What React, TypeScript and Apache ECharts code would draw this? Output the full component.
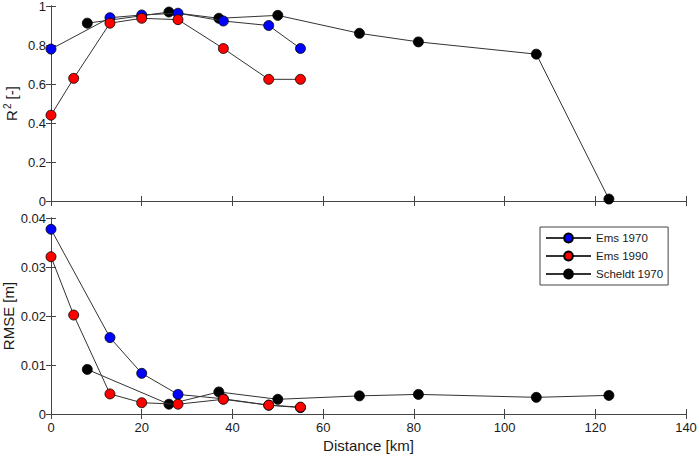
import React, { useEffect, useRef } from "react";
import * as echarts from "echarts";

const ems1970Dist = [0, 13, 20, 28, 38, 48, 55];
const ems1990Dist = [0, 5, 13, 20, 28, 38, 48, 55];
const scheldtDist = [8, 26, 37, 50, 68, 81, 107, 123];

const ems1970R2 = [0.779, 0.94, 0.954, 0.963, 0.923, 0.9, 0.782];
const ems1990R2 = [0.44, 0.629, 0.912, 0.937, 0.93, 0.782, 0.624, 0.624];
const scheldtR2 = [0.912, 0.969, 0.937, 0.952, 0.86, 0.816, 0.753, 0.01];

const ems1970Rmse = [0.0377, 0.0156, 0.0083, 0.004, 0.0031, 0.0018, 0.0013];
const ems1990Rmse = [0.0321, 0.0202, 0.0041, 0.0023, 0.002, 0.003, 0.0018, 0.0014];
const scheldtRmse = [0.0091, 0.002, 0.0045, 0.003, 0.0037, 0.004, 0.0034, 0.0038];

const seriesNames = ["Ems 1970", "Ems 1990", "Scheldt 1970"];
const seriesColors = ["#0000ff", "#ff0000", "#000000"];

const FONT = "'Liberation Sans', Arial, sans-serif";
const AXIS_COLOR = "#444444";
const TEXT_COLOR = "#1a1a1a";

const zip = (xs: number[], ys: number[]) => xs.map((x, i) => [x, ys[i]]);

export default function App() {
  const ref = useRef<HTMLDivElement>(null);
  useEffect(() => {
    if (!ref.current) return;
    const chart = echarts.init(ref.current, null, { renderer: "svg" });

    const axisLine = { show: true, lineStyle: { color: AXIS_COLOR, width: 1 } };
    const axisTick = { show: true, inside: true, length: 5, lineStyle: { color: AXIS_COLOR } };
    const tickStyle = { color: TEXT_COLOR, fontSize: 13, fontFamily: FONT };
    const nameStyle = { color: TEXT_COLOR, fontSize: 15, fontFamily: FONT };

    const xBase = (grid: number, pos: "bottom" | "top", labels: boolean, name?: string) => ({
      type: "value",
      gridIndex: grid,
      position: pos,
      min: 0,
      max: 140,
      interval: 20,
      axisLine,
      axisTick,
      splitLine: { show: false },
      axisLabel: { show: labels, margin: 7, ...tickStyle },
      name: name,
      nameLocation: "middle",
      nameGap: 24,
      nameMoveOverlap: false,
      nameTextStyle: { ...nameStyle },
    });

    const yBase = (
      grid: number,
      pos: "left" | "right",
      max: number,
      interval: number,
      labels: boolean,
      name?: string,
      nameGap?: number,
      rich?: any
    ) => ({
      type: "value",
      gridIndex: grid,
      position: pos,
      min: 0,
      max,
      interval,
      axisLine,
      axisTick,
      splitLine: { show: false },
      axisLabel: {
        show: labels,
        margin: 5,
        ...tickStyle,
        lineHeight: 11,
        formatter: (v: number) => String(parseFloat(v.toFixed(4))),
      },
      name,
      nameLocation: "middle",
      nameGap: nameGap ?? 30,
      nameMoveOverlap: false,
      nameTextStyle: { ...nameStyle, rich },
    });

    const richR2 = {
      a: { fontSize: 15, fontFamily: FONT, color: TEXT_COLOR },
      b: { fontSize: 10, fontFamily: FONT, color: TEXT_COLOR, verticalAlign: "top", padding: [0, 0, 8, 1] },
    };

    const mkSeries = (name: string, color: string, data: number[][], xi: number, yi: number, z: number) => ({
      type: "line",
      name,
      xAxisIndex: xi,
      yAxisIndex: yi,
      data,
      symbol: "circle",
      symbolSize: 10,
      showSymbol: true,
      z,
      lineStyle: { color: "#333333", width: 1 },
      itemStyle: { color, borderColor: "#000000", borderWidth: 0.8 },
      emphasis: { disabled: true },
    });

    const option = {
      animation: false,
      textStyle: { fontFamily: FONT },
      grid: [
        { left: 51, right: 13, top: 6, height: 195, outerBoundsMode: "none", containLabel: false },
        { left: 51, right: 13, top: 218, height: 196, outerBoundsMode: "none", containLabel: false },
      ],
      xAxis: [
        xBase(0, "bottom", false),
        xBase(0, "top", false),
        xBase(1, "bottom", true, "Distance [km]"),
        xBase(1, "top", false),
      ],
      yAxis: [
        yBase(0, "left", 1, 0.2, true, "{a|R}{b|2}{a| [-]}", 31, richR2),
        yBase(0, "right", 1, 0.2, false),
        yBase(1, "left", 0.04, 0.01, true, "RMSE [m]", 35),
        yBase(1, "right", 0.04, 0.01, false),
      ],
      legend: {
        data: seriesNames,
        orient: "vertical",
        left: 540,
        top: 227,
        padding: [5, 5, 5, 5],
        itemWidth: 45,
        itemHeight: 11,
        itemGap: 6,
        backgroundColor: "#ffffff",
        borderColor: AXIS_COLOR,
        borderWidth: 1,
        borderRadius: 0,
        textStyle: { color: TEXT_COLOR, fontSize: 11.5, fontFamily: FONT, padding: [0, 0, 0, 0] },
        selectedMode: false,
      },
      series: [
        mkSeries(seriesNames[2], seriesColors[2], zip(scheldtDist, scheldtR2), 0, 0, 2),
        mkSeries(seriesNames[0], seriesColors[0], zip(ems1970Dist, ems1970R2), 0, 0, 3),
        mkSeries(seriesNames[1], seriesColors[1], zip(ems1990Dist, ems1990R2), 0, 0, 4),
        mkSeries(seriesNames[2], seriesColors[2], zip(scheldtDist, scheldtRmse), 2, 2, 2),
        mkSeries(seriesNames[0], seriesColors[0], zip(ems1970Dist, ems1970Rmse), 2, 2, 3),
        mkSeries(seriesNames[1], seriesColors[1], zip(ems1990Dist, ems1990Rmse), 2, 2, 4),
      ],
    };

    chart.setOption(option as any);
    return () => chart.dispose();
  }, []);

  return (
    <div
      ref={ref}
      style={{ position: "fixed", left: 0, top: 0, width: 699, height: 456, background: "#ffffff" }}
    />
  );
}
